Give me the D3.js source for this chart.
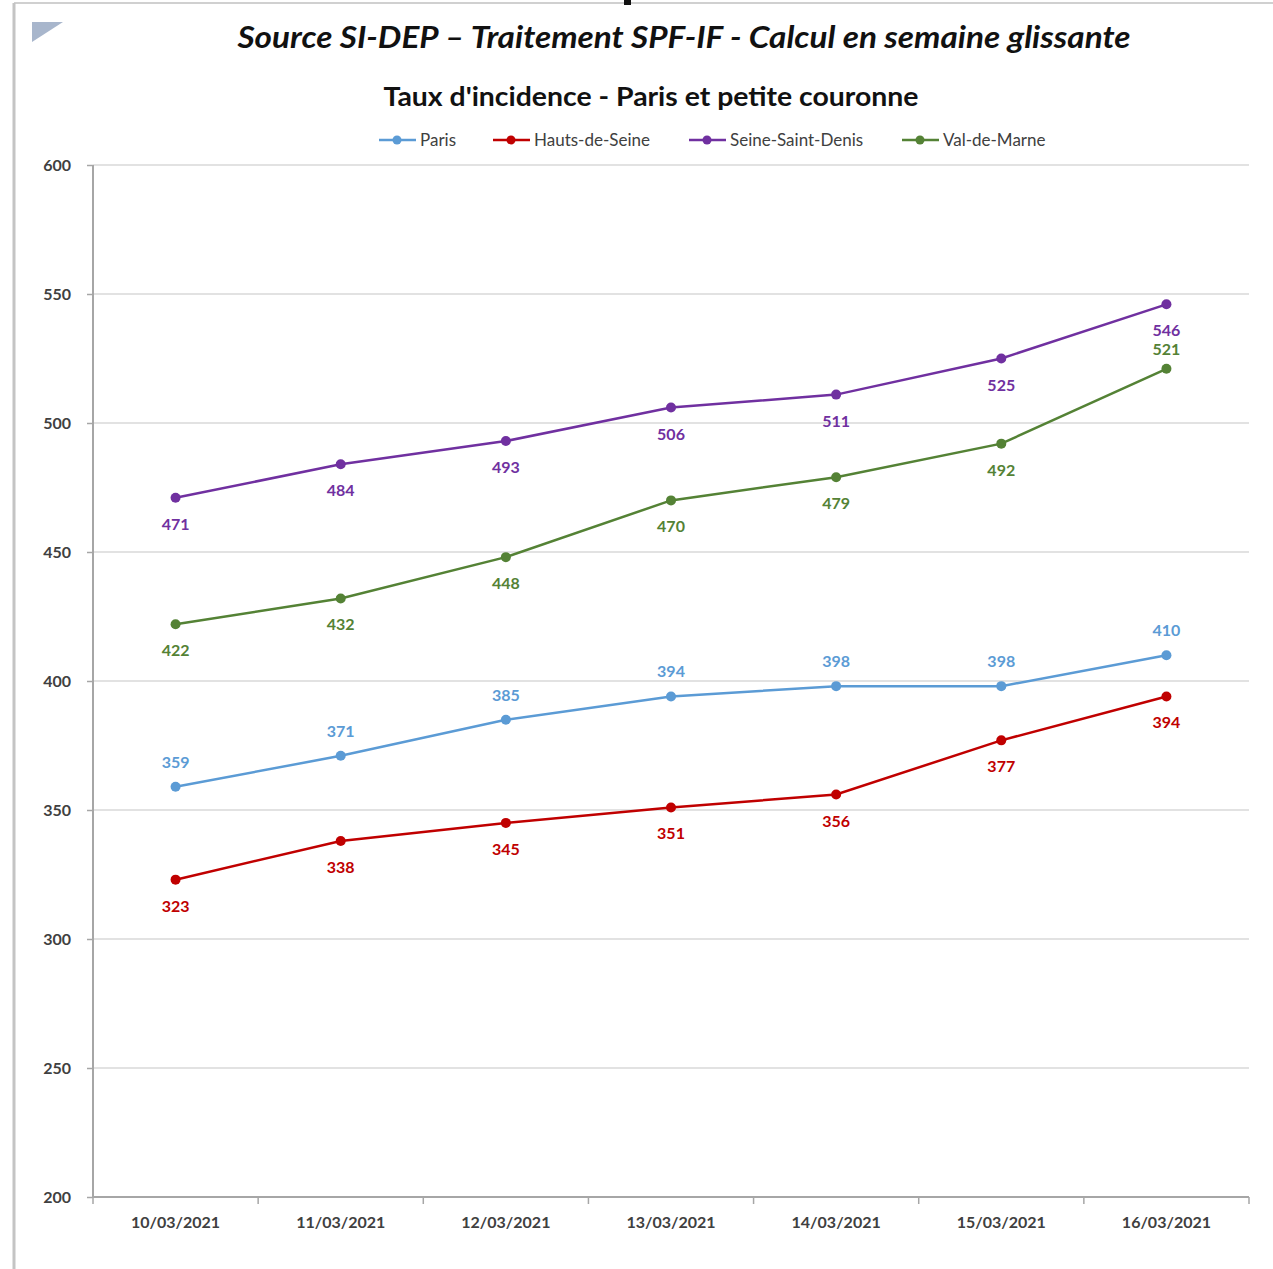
<!DOCTYPE html>
<html><head><meta charset="utf-8">
<script src="https://cdn.jsdelivr.net/npm/d3@7"></script>
<style>body{margin:0;background:#fff;}svg{display:block;font-family:Lato,"Open Sans",sans-serif;}</style>
</head><body>
<svg id="c" width="1273" height="1269"></svg>
<script>
const dates = ["10/03/2021","11/03/2021","12/03/2021","13/03/2021","14/03/2021","15/03/2021","16/03/2021"];
const seriesNames = ["Paris","Hauts-de-Seine","Seine-Saint-Denis","Val-de-Marne"];
const seriesColors = ["#5b9bd5","#c00000","#7030a0","#548235"];
const paris = [359,371,385,394,398,398,410];
const hautsDeSeine = [323,338,345,351,356,377,394];
const seineSaintDenis = [471,484,493,506,511,525,546];
const valDeMarne = [422,432,448,470,479,492,521];
const yTicks = [200,250,300,350,400,450,500,550,600];
// label placement: -1 above, 1 below
const labelPos = [
  [-1,-1,-1,-1,-1,-1,-1],
  [1,1,1,1,1,1,1],
  [1,1,1,1,1,1,1],
  [1,1,1,1,1,1,-1]
];
const series = [paris,hautsDeSeine,seineSaintDenis,valDeMarne];

const svg = d3.select("#c");
// frame
svg.append("line").attr("x1",14).attr("x2",1273).attr("y1",3).attr("y2",3).attr("stroke","#d0d0d0").attr("stroke-width",2);
svg.append("line").attr("x1",14).attr("x2",14).attr("y1",3).attr("y2",1269).attr("stroke","#c4c4c4").attr("stroke-width",3);
svg.append("path").attr("d","M32,22 L63,22 L32,42 Z").attr("fill","#a8b6cc");
svg.append("rect").attr("x",624).attr("y",0).attr("width",7).attr("height",5).attr("fill","#111");

svg.append("text").attr("x",684).attr("y",48).attr("text-anchor","middle")
  .attr("font-size",31).attr("font-weight","bold").attr("font-style","italic").attr("fill","#111")
  .attr("textLength",893).attr("lengthAdjust","spacingAndGlyphs")
  .text("Source SI-DEP – Traitement SPF-IF - Calcul en semaine glissante");
svg.append("text").attr("x",651).attr("y",106).attr("text-anchor","middle")
  .attr("font-size",27).attr("font-weight","bold").attr("fill","#111")
  .attr("textLength",535).attr("lengthAdjust","spacingAndGlyphs")
  .text("Taux d'incidence - Paris et petite couronne");

const x = d3.scaleBand().domain(dates).range([93,1249]);
const y = d3.scaleLinear().domain([200,600]).range([1197,165]);

// gridlines
svg.append("g").selectAll("line").data(yTicks.filter(t=>t>200)).join("line")
  .attr("x1",93).attr("x2",1249).attr("y1",d=>y(d)).attr("y2",d=>y(d))
  .attr("stroke","#d9d9d9").attr("stroke-width",1.5);

const yAxis = svg.append("g").attr("transform","translate(93,0)")
  .call(d3.axisLeft(y).tickValues(yTicks).tickSize(6).tickPadding(10));
yAxis.select(".domain").attr("stroke","#a6a6a6").attr("stroke-width",2).attr("d","M0,165V1197");
yAxis.selectAll(".tick line").attr("stroke","#a6a6a6").attr("stroke-width",1.5);
yAxis.selectAll(".tick text").attr("font-size",16).attr("fill","#404040").attr("font-family","Lato,sans-serif").attr("font-weight","bold").attr("dx",-6);

const xAxis = svg.append("g").attr("transform","translate(0,1197)")
  .call(d3.axisBottom(x).tickSize(0).tickPadding(20));
xAxis.select(".domain").attr("stroke","#a6a6a6").attr("stroke-width",2).attr("d","M93,0H1249");
xAxis.selectAll(".tick text").attr("font-size",16).attr("fill","#404040").attr("font-family","Lato,sans-serif").attr("font-weight","bold");
// boundary ticks
const bounds = dates.map(d=>x(d)).concat([x(dates[dates.length-1])+x.bandwidth()]);
svg.append("g").selectAll("line").data(bounds).join("line")
  .attr("x1",d=>d).attr("x2",d=>d).attr("y1",1197).attr("y2",1204)
  .attr("stroke","#a6a6a6").attr("stroke-width",1.5);

const cx = d => x(d)+x.bandwidth()/2;
const line = d3.line().x((v,i)=>cx(dates[i])).y(v=>y(v));

series.forEach((s,si)=>{
  const g = svg.append("g");
  g.append("path").datum(s).attr("d",line).attr("fill","none").attr("stroke",seriesColors[si]).attr("stroke-width",2.5);
  g.selectAll("circle").data(s).join("circle")
    .attr("cx",(v,i)=>cx(dates[i])).attr("cy",v=>y(v)).attr("r",5).attr("fill",seriesColors[si]);
  g.selectAll("text").data(s).join("text")
    .attr("x",(v,i)=>cx(dates[i]))
    .attr("y",(v,i)=>{
      if (labelPos[si][i]>0) return y(v)+32;
      return y(v)+(si===3?-14:-19);
    })
    .attr("text-anchor","middle").attr("font-size",16).attr("font-weight","bold")
    .attr("fill",seriesColors[si]).text(v=>v);
});

// legend
const legX = [379,493,689,902];
const lg = svg.append("g");
seriesNames.forEach((n,i)=>{
  lg.append("line").attr("x1",legX[i]).attr("x2",legX[i]+37).attr("y1",140).attr("y2",140).attr("stroke",seriesColors[i]).attr("stroke-width",2.5);
  lg.append("circle").attr("cx",legX[i]+18).attr("cy",140).attr("r",4.5).attr("fill",seriesColors[i]);
  lg.append("text").attr("x",legX[i]+41).attr("y",146).attr("font-size",17).attr("fill","#404040").text(n);
});
</script>
</body></html>
